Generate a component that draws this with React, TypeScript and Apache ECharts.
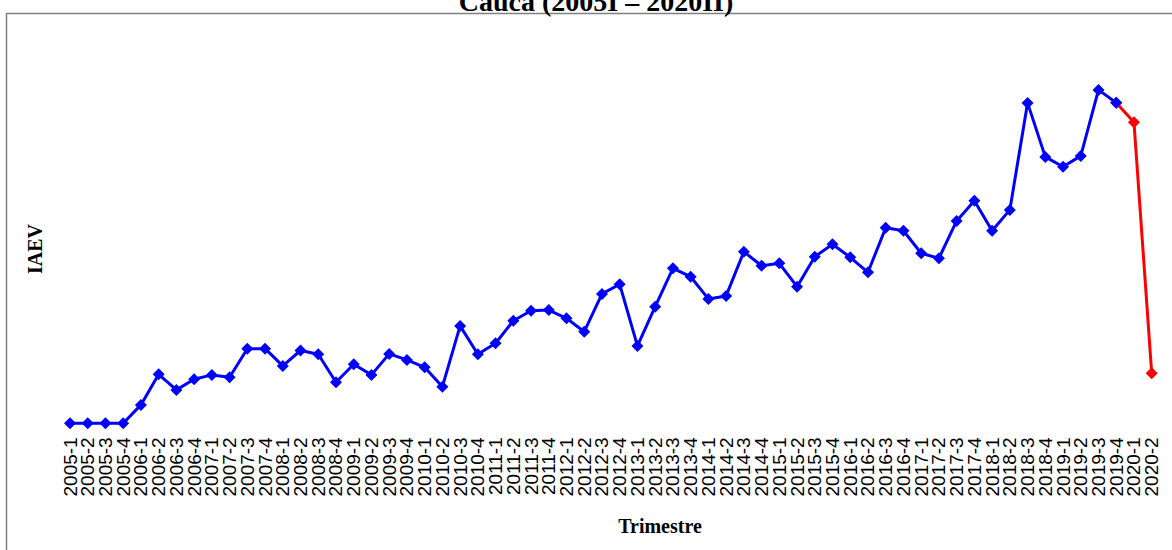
import React, { useEffect, useRef } from "react";
import * as echarts from "echarts";

const categories: string[] = [
  "2005-1", "2005-2", "2005-3", "2005-4",
  "2006-1", "2006-2", "2006-3", "2006-4",
  "2007-1", "2007-2", "2007-3", "2007-4",
  "2008-1", "2008-2", "2008-3", "2008-4",
  "2009-1", "2009-2", "2009-3", "2009-4",
  "2010-1", "2010-2", "2010-3", "2010-4",
  "2011-1", "2011-2", "2011-3", "2011-4",
  "2012-1", "2012-2", "2012-3", "2012-4",
  "2013-1", "2013-2", "2013-3", "2013-4",
  "2014-1", "2014-2", "2014-3", "2014-4",
  "2015-1", "2015-2", "2015-3", "2015-4",
  "2016-1", "2016-2", "2016-3", "2016-4",
  "2017-1", "2017-2", "2017-3", "2017-4",
  "2018-1", "2018-2", "2018-3", "2018-4",
  "2019-1", "2019-2", "2019-3", "2019-4",
  "2020-1", "2020-2",
];

const iaev: number[] = [
  100, 100, 100, 100,
  109.2, 124.5, 116.7, 122,
  124.2, 123, 137.3, 137.3,
  128.7, 136.4, 134.5, 120.5,
  129.5, 124.2, 134.7, 131.7,
  128, 118.3, 148.7, 134.5,
  140, 151.3, 156.3, 156.6,
  152.5, 145.8, 164.7, 169.5,
  138.7, 158.3, 177.5, 173.3,
  162.2, 163.7, 185.8, 178.8,
  180, 168.3, 183.3, 189.5,
  183, 175.5, 197.8, 196.3,
  185, 182.5, 201.2, 211.3,
  196.3, 206.7, 260.2, 233.2,
  228.3, 233.7, 266.7, 260.3,
  250.5, 125,
];

// last observed quarter drawn in blue; following quarters in red
const lastBlueLabel = "2019-4";

const titleText = "Cauca (2005I – 2020II)";
const xName = "Trimestre";
const yName = "IAEV";

export default function App() {
  const ref = useRef<HTMLDivElement>(null);

  useEffect(() => {
    if (!ref.current) return;
    const chart = echarts.init(ref.current, null, { renderer: "svg" });
    const split = categories.indexOf(lastBlueLabel);
    const blue = iaev.map((v, i) => (i <= split ? v : null));
    const red = iaev.map((v, i) => (i >= split ? v : null));

    chart.setOption({
      animation: false,
      backgroundColor: "#ffffff",
      grid: { left: 70, right: 20.3, top: 63.3, bottom: 120.7, containLabel: false },
      xAxis: {
        type: "category",
        data: categories,
        boundaryGap: false,
        axisLine: { show: false },
        axisTick: { show: false },
        splitLine: { show: false },
        axisLabel: {
          interval: 0,
          rotate: 90,
          margin: 8,
          color: "#000",
          fontFamily: "Liberation Sans, Arial, sans-serif",
          fontSize: 19,
        },
      },
      yAxis: {
        type: "value",
        min: 97,
        max: 280,
        show: false,
      },
      series: [
        {
          type: "line",
          data: red,
          connectNulls: false,
          symbol: "diamond",
          symbolSize: 12,
          lineStyle: { color: "#ff0000", width: 3 },
          itemStyle: { color: "#ff0000" },
        },
        {
          type: "line",
          data: blue,
          connectNulls: false,
          symbol: "diamond",
          symbolSize: 12,
          lineStyle: { color: "#0000ff", width: 3 },
          itemStyle: { color: "#0000ff" },
        },
      ],
      graphic: [
        {
          type: "polyline",
          shape: { points: [[6.5, 560], [6.5, 13.5], [1180, 13.5]] },
          style: { stroke: "#808080", lineWidth: 1.5, fill: null },
          silent: true,
        },
        {
          type: "text",
          x: 596,
          y: 15,
          style: {
            text: titleText,
            fill: "#000",
            font: "bold 28px 'Liberation Serif', 'Times New Roman', serif",
            align: "center",
            verticalAlign: "bottom",
          },
        },
        {
          type: "text",
          x: 35,
          y: 249,
          rotation: Math.PI / 2,
          style: {
            text: yName,
            fill: "#000",
            font: "bold 20px 'Liberation Serif', 'Times New Roman', serif",
            align: "center",
            verticalAlign: "middle",
          },
        },
        {
          type: "text",
          x: 660,
          y: 526,
          style: {
            text: xName,
            fill: "#000",
            font: "bold 20px 'Liberation Serif', 'Times New Roman', serif",
            align: "center",
            verticalAlign: "middle",
          },
        },
      ],
    });
    return () => chart.dispose();
  }, []);

  return (
    <div
      ref={ref}
      style={{ position: "fixed", left: 0, top: 0, width: 1172, height: 550, background: "#fff" }}
    />
  );
}
